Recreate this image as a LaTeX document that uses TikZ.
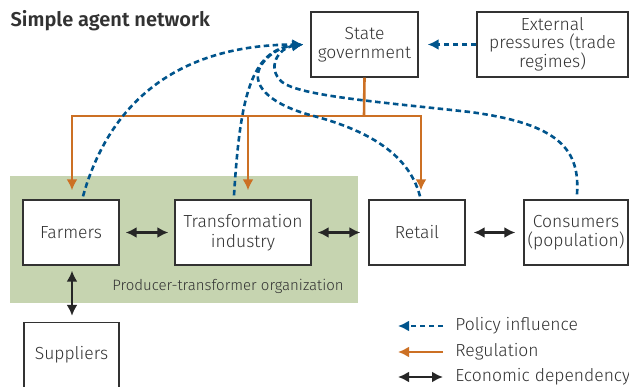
\documentclass[tikz,border=0pt]{standalone}
\usepackage{fontspec}
\setmainfont{Fira Sans}[UprightFont=* Light, BoldFont=* SemiBold]
\usetikzlibrary{arrows.meta,positioning}

\definecolor{policyblue}{RGB}{0,84,140}
\definecolor{regorange}{RGB}{204,112,36}
\definecolor{orggreen}{RGB}{198,212,176}
\definecolor{boxgray}{RGB}{50,50,50}

\begin{document}
\begin{tikzpicture}[x=1pt,y=-1pt,>={Latex[length=11pt,width=11pt]},semithick]
\tikzstyle{agent node}=[rectangle,draw=boxgray,fill=white,line width=1.3pt,minimum height=65pt,inner sep=2pt,align=center,text=boxgray,font=\fontsize{17.5}{19.5}\selectfont]
\tikzstyle{org node}=[rectangle,fill=orggreen,inner sep=0pt]

\tikzset{
	policy/.style={->,draw=policyblue,line width=2.6pt,dash pattern=on 5.5pt off 3.5pt},
	regulation/.style={->,draw=regorange,line width=2.6pt},
	economic/.style={<->,draw=black!85,line width=2.4pt},
	legend text/.style={anchor=west,text=boxgray,inner sep=0pt,font=\fontsize{17.5}{19.5}\selectfont}
}

      \useasboundingbox (0,0) rectangle (629,387);

      % producer-transformer organization
      \node[org node,minimum width=348pt,minimum height=127pt] (org) at (184,239.5) {};
      \node[text=boxgray,font=\fontsize{15}{17}\selectfont] (orglabel) at (228,286) {Producer-transformer organization};

      \node[anchor=base west,text=boxgray,font=\fontsize{20}{22}\selectfont\bfseries] (title) at (7,27) {Simple agent network};

      \node[agent node,minimum width=107pt] (gov) at (364.5,44.5) {State\\government};
      \node[agent node,minimum width=151pt,font=\fontsize{17.5}{17.5}\selectfont] (ext) at (552.5,44.5) {External\\pressures (trade\\regimes)};
      \node[agent node,minimum width=96pt] (farmers) at (71,232.5) {Farmers};
      \node[agent node,minimum width=136pt] (transf) at (243,232.5) {Transformation\\industry};
      \node[agent node,minimum width=96pt] (retail) at (417,232.5) {Retail};
      \node[agent node,minimum width=104pt] (consumers) at (576,232.5) {Consumers\\(population)};
      \node[agent node,minimum width=95pt] (suppliers) at (71.5,355) {Suppliers};

    % regulation
    \coordinate (regbus) at (364,116);
    \draw[regorange,line width=2.6pt] (gov.south) -- (regbus);
    \draw[regulation] (regbus) -| ([xshift=1pt,yshift=9pt]farmers.north);
    \draw[regulation] (regbus) -| ([xshift=4pt,yshift=9pt]retail.north);
    \draw[regulation] (regbus -| 248,0) -- ([xshift=5pt,yshift=9pt]transf.north);

    % policy influence
    \coordinate (policyin) at ([xshift=-7pt]gov.west);
    \draw[policy] ([xshift=12pt,yshift=3pt]farmers.north) .. controls (110,100) and (180,45) .. (policyin);
    \draw[policy] ([xshift=-9pt,yshift=4pt]transf.north) .. controls (240,100) and (250,50) .. (policyin);
    \draw[policy] ([xshift=3pt,yshift=3pt]retail.north) .. controls (408,150) and (360,128) .. (310,115)
        .. controls (270,104) and (248,84) .. (262,64) .. controls (270,52) and (285,46) .. (policyin);
    \draw[policy] ([xshift=1pt,yshift=5pt]consumers.north) .. controls (580,150) and (560,124) .. (470,112)
        .. controls (380,102) and (300,96) .. (282,82) .. controls (266,68) and (278,48) .. (policyin);
    \draw[policy] (ext.west) -- ([xshift=9pt]gov.east);

    % economic dependency
    \draw[economic] ([xshift=6pt]farmers.east) -- ([xshift=-6pt]transf.west);
    \draw[economic] ([xshift=6pt]transf.east) -- ([xshift=-8pt]retail.west);
    \draw[economic] ([xshift=8pt]retail.east) -- ([xshift=-8pt]consumers.west);
    \draw[economic] ([xshift=1pt,yshift=-5pt]farmers.south) -- ([xshift=0.5pt,yshift=6pt]suppliers.north);

    % legend
    \node[legend text] (legpolicy) at (455,326) {Policy influence};
    \node[legend text] (legreg) at (455,352) {Regulation};
    \node[legend text] (legecon) at (455,377) {Economic dependency};
    \coordinate (legpolicyl) at (398,326);
    \coordinate (legregl) at (398,352);
    \coordinate (legeconl) at (398,377);
    \draw[policy] ([xshift=-12pt]legpolicy.west) -- (legpolicyl);
    \draw[regulation] ([xshift=-12pt]legreg.west) -- (legregl);
    \draw[economic] (legeconl) -- ([xshift=-12pt]legecon.west);
;
\end{tikzpicture}
\end{document}
